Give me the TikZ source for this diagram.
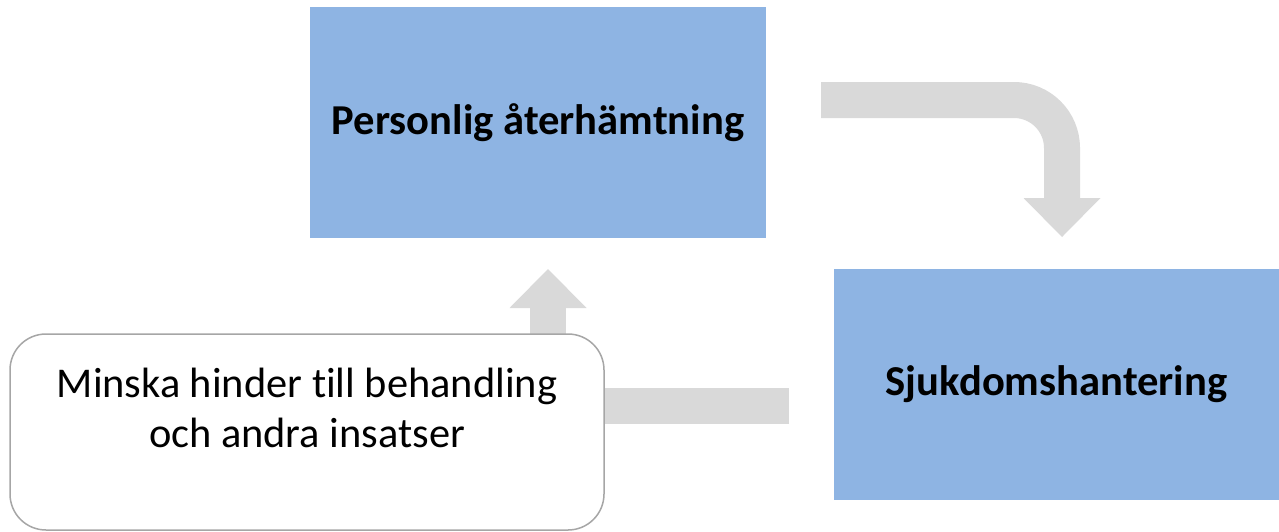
\documentclass[tikz,border=0pt]{standalone}
\usepackage{fontspec}
\setmainfont{Carlito}[Ligatures=NoCommon]
\usetikzlibrary{arrows.meta}
\definecolor{stepblue}{HTML}{8EB4E3}
\definecolor{flowgray}{HTML}{D9D9D9}
\definecolor{edgegray}{HTML}{A6A6A6}
\begin{document}
\begin{tikzpicture}[x=1pt,y=-1pt,
  bluebox/.style={fill=stepblue,draw=none,minimum width=#1,minimum height=231pt,inner sep=0pt,
    font=\fontsize{42.6}{51}\selectfont\bfseries},
  notebox/.style={fill=white,draw=edgegray,line width=1.5pt,rounded corners=36pt,
    minimum width=594pt,minimum height=196pt,inner sep=0pt},
  notetext/.style={align=center,inner sep=0pt,font=\fontsize{42.4}{50}\selectfont},
  flow/.style={draw=flowgray,line width=36pt,line cap=butt,
    -{Triangle[width=77pt,length=39pt,line width=0pt]}}]
  \useasboundingbox (0,0) rectangle (1279,531);
  % the three steps
  \node[bluebox=456pt] (boxA) at (538,122.5) {Personlig återhämtning};
  \node[bluebox=445pt] (boxB) at (1056.5,384.5) {Sjukdomshantering};
  % ends of the bent connectors
  \coordinate (topStart) at (821,100);
  \coordinate (topEnd) at (1062,237);
  \coordinate (lowStart) at (789,406);
  \coordinate (lowEnd) at (548,269);
  \draw[flow,rounded corners=48pt] (topStart) -| (topEnd);
  \draw[flow] (lowStart) -| (lowEnd);
  % rounded note box on top of the lower connector
  \node[notebox] (boxC) at (307,432) {};
  \node[notetext,anchor=north] (boxCtext) at ([yshift=-35pt]boxC.north)
    {Minska hinder till behandling\\och andra insatser};
\end{tikzpicture}
\end{document}
